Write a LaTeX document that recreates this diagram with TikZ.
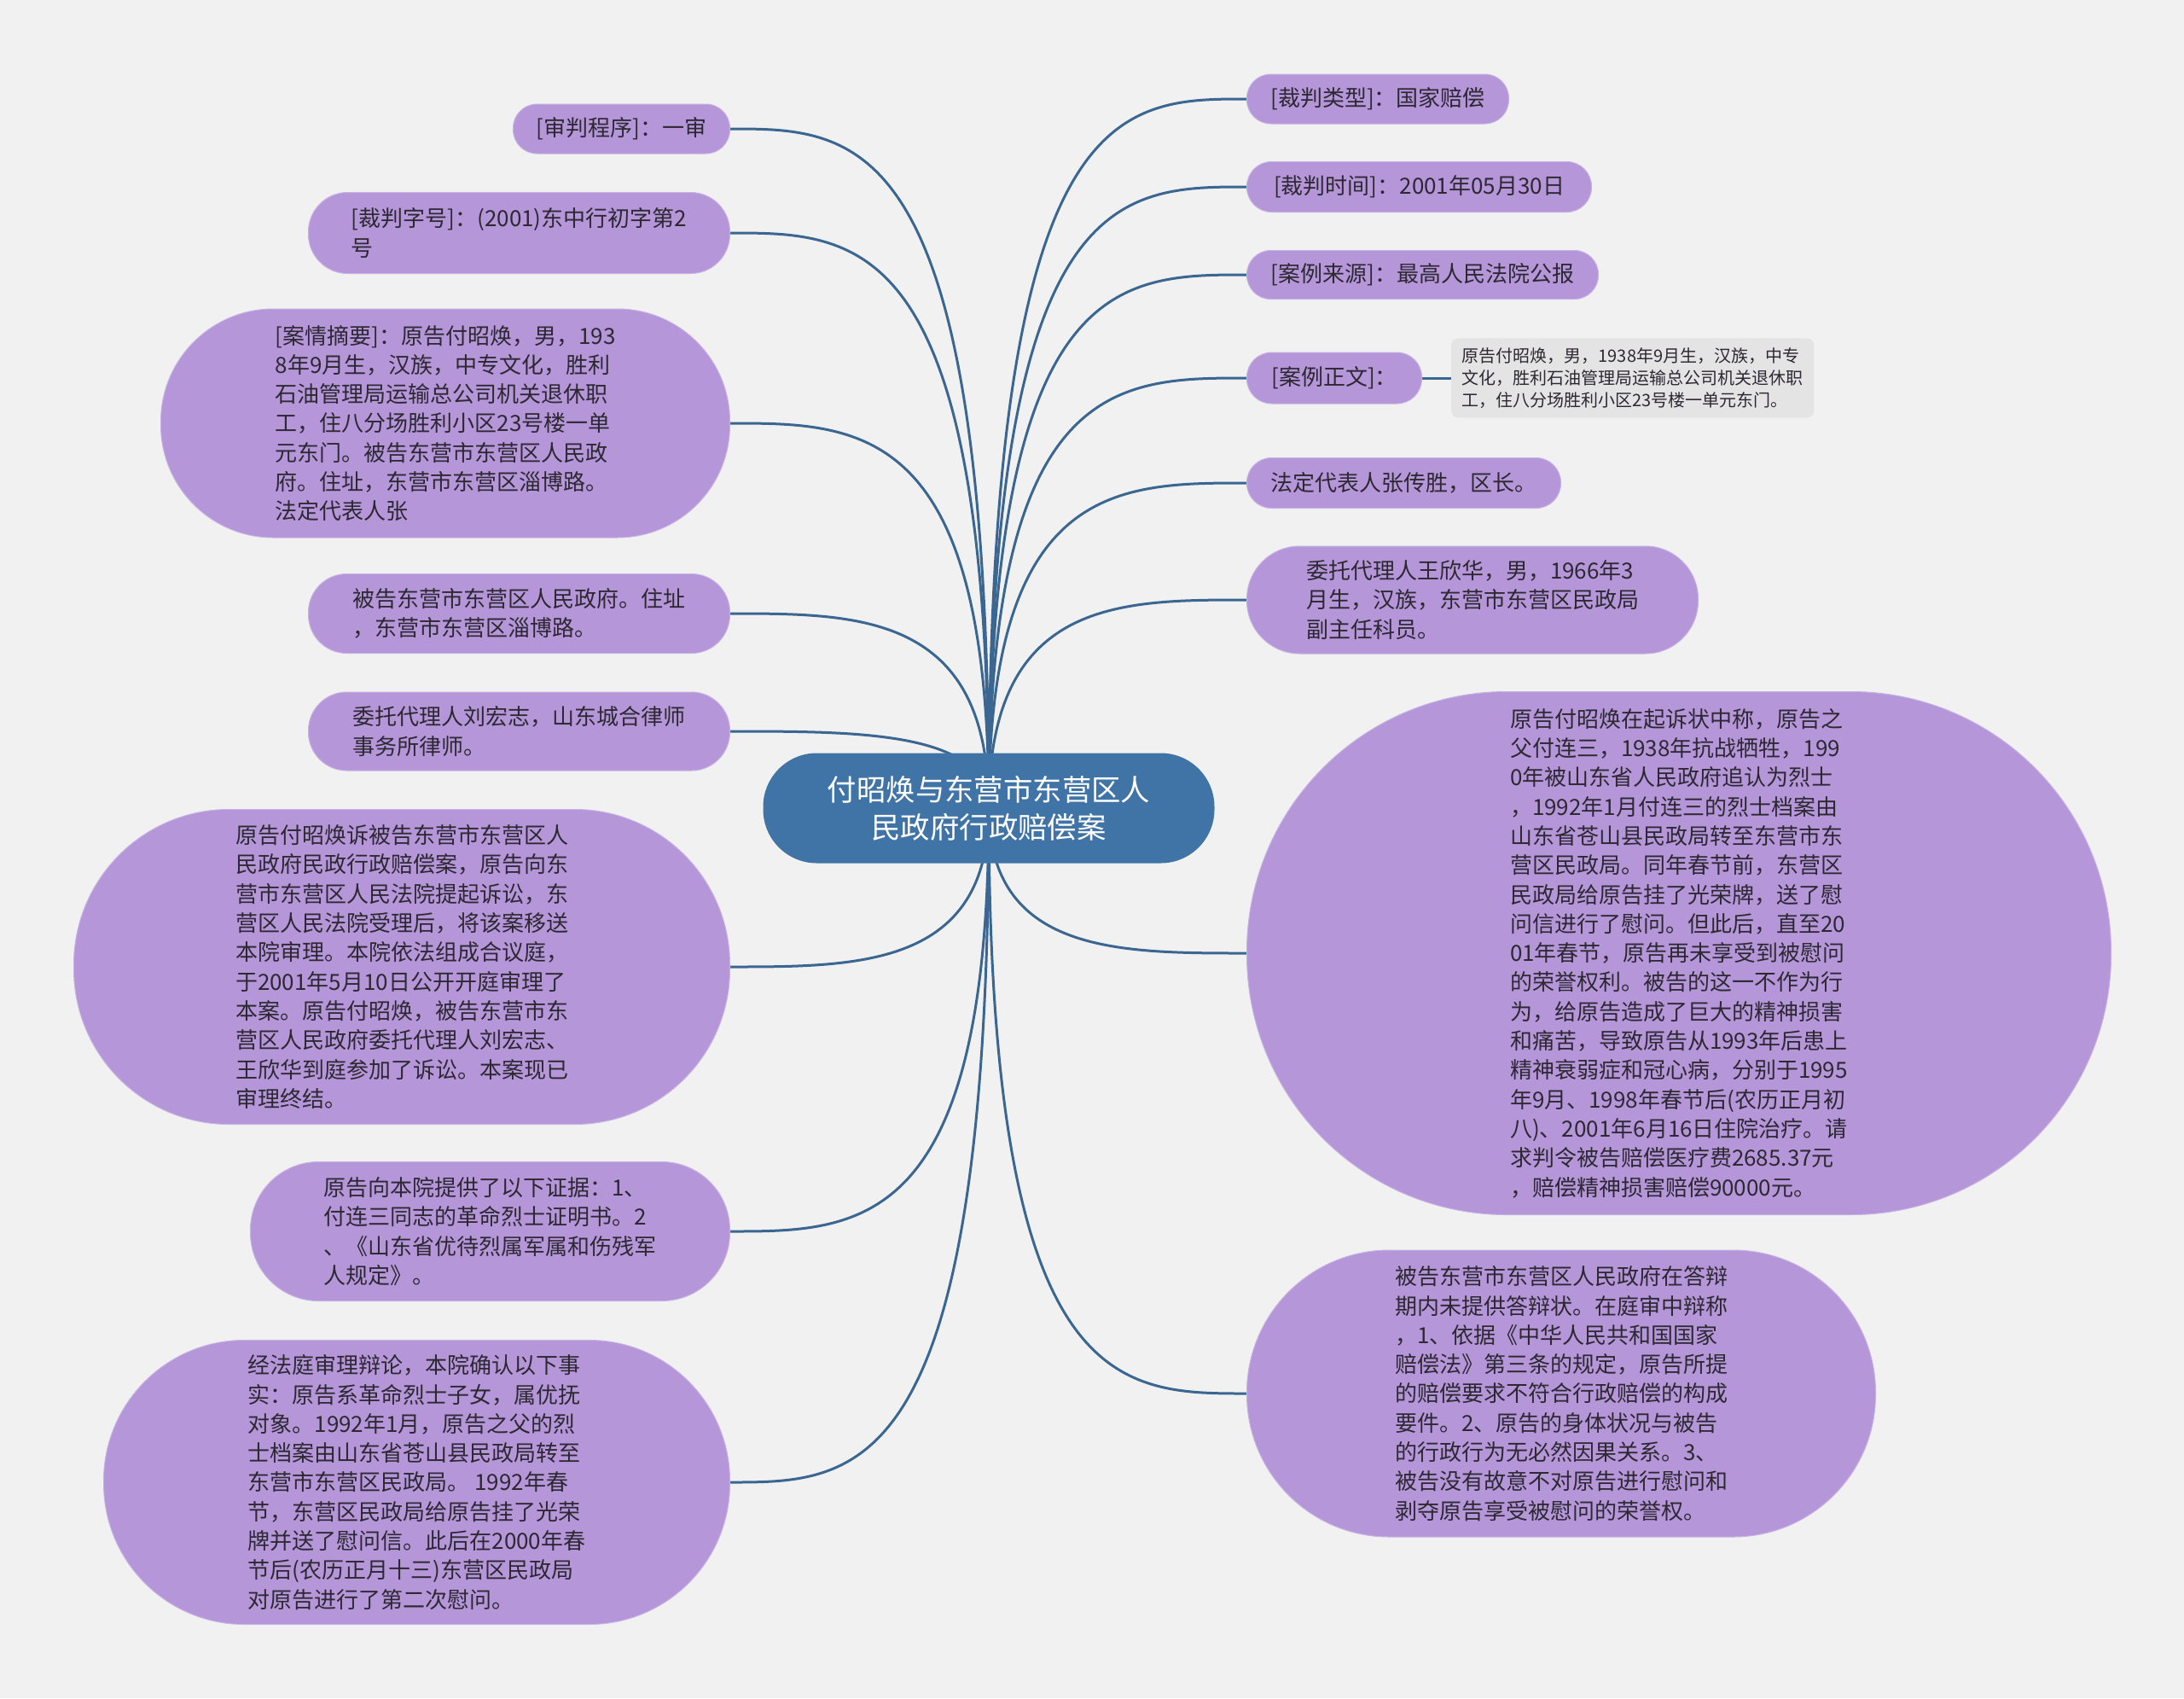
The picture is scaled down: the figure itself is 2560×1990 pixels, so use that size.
\documentclass[tikz,border=0pt]{standalone}
\usepackage{fontspec}
\setmainfont{Noto Sans CJK SC}
\usepackage{tikz}
\usetikzlibrary{calc,backgrounds}
\definecolor{bgGray}     {RGB}{241,241,241}
\definecolor{leafPurple} {RGB}{180,150,217}
\definecolor{leafEdge}   {RGB}{198,178,228}
\definecolor{rootBlue}   {RGB}{64, 116,166}
\definecolor{linkBlue}   {RGB}{58, 102,145}
\definecolor{noteGray}   {RGB}{228,228,228}
\definecolor{textDark}   {RGB}{45,  40, 50}

\begin{document}
\begin{tikzpicture}[x=1pt,y=-1pt,
    leaf/.style={fill=leafPurple,draw=leafEdge,line width=1pt,text=textDark,
                 align=left,inner sep=0pt,font=\fontsize{26}{34.3}\selectfont},
    link/.style={draw=linkBlue,line width=3pt}]

    \useasboundingbox (0,0) rectangle (2560,1990);

    % ════════ 中心主题 ════════
    \node[fill=rootBlue,text=white,align=center,rounded corners=63,
          minimum width=529,minimum height=129,
          font=\fontsize{34.4}{44}\selectfont] (root) at (1159,947)
      {付昭焕与东营市东营区人\\民政府行政赔偿案};

    % ════════ 左侧分支 ════════
    \node[leaf,anchor=east,minimum width=254,minimum height=58,rounded corners=28]
      (l1) at (856,151) {[审判程序]：一审};
    \node[leaf,anchor=east,minimum width=494,minimum height=95,rounded corners=46]
      (l2) at (856,273) {[裁判字号]：(2001)东中行初字第2\\号};
    \node[leaf,anchor=east,minimum width=667,minimum height=268,rounded corners=132]
      (l3) at (856,496)
      {[案情摘要]：原告付昭焕，男，193\\8年9月生，汉族，中专文化，胜利\\石油管理局运输总公司机关退休职\\工，住八分场胜利小区23号楼一单\\元东门。被告东营市东营区人民政\\府。住址，东营市东营区淄博路。\\法定代表人张};
    \node[leaf,anchor=east,minimum width=494,minimum height=93,rounded corners=45]
      (l4) at (856,719) {被告东营市东营区人民政府。住址\\，东营市东营区淄博路。};
    \node[leaf,anchor=east,minimum width=494,minimum height=92,rounded corners=45]
      (l5) at (856,857) {委托代理人刘宏志，山东城合律师\\事务所律师。};
    \node[leaf,anchor=east,minimum width=769,minimum height=369,rounded corners=182]
      (l6) at (856,1133)
      {原告付昭焕诉被告东营市东营区人\\民政府民政行政赔偿案，原告向东\\营市东营区人民法院提起诉讼，东\\营区人民法院受理后，将该案移送\\本院审理。本院依法组成合议庭，\\于2001年5月10日公开开庭审理了\\本案。原告付昭焕，被告东营市东\\营区人民政府委托代理人刘宏志、\\王欣华到庭参加了诉讼。本案现已\\审理终结。};
    \node[leaf,anchor=east,minimum width=562,minimum height=163,rounded corners=80]
      (l7) at (856,1443)
      {原告向本院提供了以下证据：1、\\付连三同志的革命烈士证明书。2\\、《山东省优待烈属军属和伤残军\\人规定》。};
    \node[leaf,anchor=east,minimum width=734,minimum height=333,rounded corners=165]
      (l8) at (856,1737)
      {经法庭审理辩论，本院确认以下事\\实：原告系革命烈士子女，属优抚\\对象。1992年1月，原告之父的烈\\士档案由山东省苍山县民政局转至\\东营市东营区民政局。 1992年春\\节，东营区民政局给原告挂了光荣\\牌并送了慰问信。此后在2000年春\\节后(农历正月十三)东营区民政局\\对原告进行了第二次慰问。};

    % ════════ 右侧分支 ════════
    \node[leaf,anchor=west,minimum width=307,minimum height=58,rounded corners=28]
      (r1) at (1461,116) {[裁判类型]：国家赔偿};
    \node[leaf,anchor=west,minimum width=404,minimum height=59,rounded corners=29]
      (r2) at (1461,219) {[裁判时间]：2001年05月30日};
    \node[leaf,anchor=west,minimum width=412,minimum height=57,rounded corners=28]
      (r3) at (1461,322) {[案例来源]：最高人民法院公报};
    \node[leaf,anchor=west,minimum width=205,minimum height=60,rounded corners=29]
      (r4) at (1461,443) {[案例正文]：};
    \node[leaf,anchor=west,minimum width=368,minimum height=59,rounded corners=29]
      (r5) at (1461,566) {法定代表人张传胜，区长。};
    \node[leaf,anchor=west,minimum width=529,minimum height=126,rounded corners=62]
      (r6) at (1461,703)
      {委托代理人王欣华，男，1966年3\\月生，汉族，东营市东营区民政局\\副主任科员。};
    \node[leaf,anchor=west,minimum width=1013,minimum height=613,rounded corners=305]
      (r7) at (1461,1117)
      {原告付昭焕在起诉状中称，原告之\\父付连三，1938年抗战牺牲，199\\0年被山东省人民政府追认为烈士\\，1992年1月付连三的烈士档案由\\山东省苍山县民政局转至东营市东\\营区民政局。同年春节前，东营区\\民政局给原告挂了光荣牌，送了慰\\问信进行了慰问。但此后，直至20\\01年春节，原告再未享受到被慰问\\的荣誉权利。被告的这一不作为行\\为，给原告造成了巨大的精神损害\\和痛苦，导致原告从1993年后患上\\精神衰弱症和冠心病，分别于1995\\年9月、1998年春节后(农历正月初\\八)、2001年6月16日住院治疗。请\\求判令被告赔偿医疗费2685.37元\\，赔偿精神损害赔偿90000元。};
    \node[leaf,anchor=west,minimum width=737,minimum height=336,rounded corners=167]
      (r8) at (1461,1633)
      {被告东营市东营区人民政府在答辩\\期内未提供答辩状。在庭审中辩称\\，1、依据《中华人民共和国国家\\赔偿法》第三条的规定，原告所提\\的赔偿要求不符合行政赔偿的构成\\要件。2、原告的身体状况与被告\\的行政行为无必然因果关系。3、\\被告没有故意不对原告进行慰问和\\剥夺原告享受被慰问的荣誉权。};

    % 正文备注
    \node[fill=noteGray,rounded corners=8,inner sep=11,text=textDark,align=left,
          font=\fontsize{20}{26}\selectfont,anchor=west,minimum width=425]
      (note) at (1701,443)
      {原告付昭焕，男，1938年9月生，汉族，中专\\文化，胜利石油管理局运输总公司机关退休职\\工，住八分场胜利小区23号楼一单元东门。};

    % ════════ 连线（背景层）════════
    \begin{scope}[on background layer]
      \fill[bgGray] (0,0) rectangle (2560,1990);
      \foreach \i in {1,...,8}{
        \draw[link] (root.center) .. controls (root.center |- l\i.east)
          and ($(root.center |- l\i.east)!0.5!(l\i.east)$) .. (l\i.east);
        \draw[link] (root.center) .. controls (root.center |- r\i.west)
          and ($(root.center |- r\i.west)!0.5!(r\i.west)$) .. (r\i.west);
      }
      \draw[link] (r4.east) -- (note.west);
    \end{scope}

\end{tikzpicture}
\end{document}
